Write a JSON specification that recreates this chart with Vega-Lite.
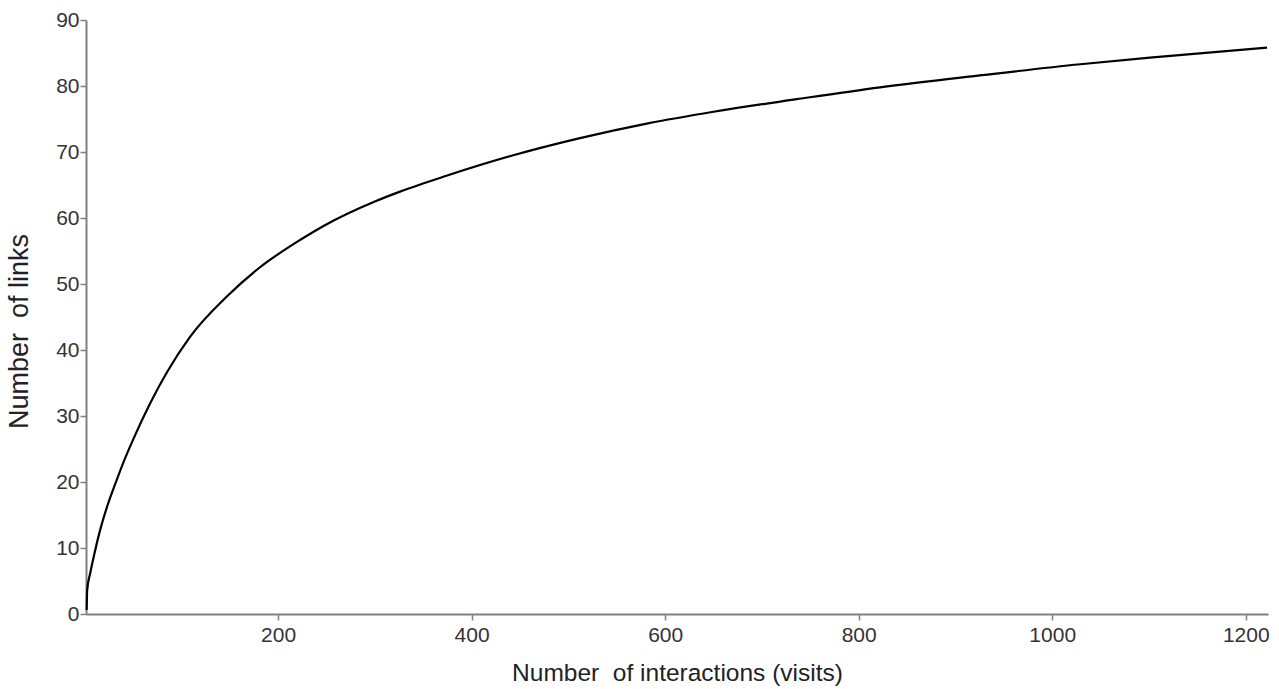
{
  "$schema": "https://vega.github.io/schema/vega-lite/v6.json",
  "width": 1182,
  "height": 594,
  "autosize": {"type": "none"},
  "padding": {"left": 86, "top": 20, "right": 11, "bottom": 75},
  "background": "white",
  "config": {
    "view": {"stroke": null},
    "font": "Liberation Sans",
    "axis": {
      "grid": false,
      "domainColor": "#808080",
      "domainWidth": 2,
      "tickColor": "#808080",
      "tickWidth": 1.5,
      "tickSize": 6,
      "labelColor": "#333333",
      "labelFont": "Liberation Sans",
      "labelFontSize": 21,
      "titleColor": "#222222",
      "titleFont": "Liberation Sans",
      "titleFontSize": 24,
      "titleFontWeight": "normal"
    }
  },
  "data": {
    "values": [
      {"visits": 2.2, "links": 0.6},
      {"visits": 2.7, "links": 3.6},
      {"visits": 6, "links": 6.3},
      {"visits": 10, "links": 9.0},
      {"visits": 15, "links": 12.1},
      {"visits": 23.6, "links": 16.4},
      {"visits": 32.2, "links": 19.9},
      {"visits": 40.8, "links": 23.2},
      {"visits": 50.4, "links": 26.5},
      {"visits": 67.7, "links": 31.9},
      {"visits": 85, "links": 36.6},
      {"visits": 109, "links": 42.0},
      {"visits": 147, "links": 48.1},
      {"visits": 181, "links": 52.5},
      {"visits": 223, "links": 56.7},
      {"visits": 247, "links": 58.8},
      {"visits": 300, "links": 62.5},
      {"visits": 326, "links": 64.0},
      {"visits": 374, "links": 66.4},
      {"visits": 443, "links": 69.5},
      {"visits": 512, "links": 72.1},
      {"visits": 581, "links": 74.3},
      {"visits": 650, "links": 76.1},
      {"visits": 736, "links": 78.0},
      {"visits": 822, "links": 79.8},
      {"visits": 925, "links": 81.6},
      {"visits": 1029, "links": 83.3},
      {"visits": 1101, "links": 84.3},
      {"visits": 1222, "links": 85.8}
    ]
  },
  "mark": {"type": "line", "color": "#000000", "strokeWidth": 2.2, "interpolate": "monotone"},
  "encoding": {
    "x": {
      "field": "visits",
      "type": "quantitative",
      "scale": {"domain": [1.5, 1223], "nice": false, "zero": false},
      "axis": {
        "title": "Number\u00a0 of interactions (visits)",
        "values": [200, 400, 600, 800, 1000, 1200],
        "format": "d",
        "labelPadding": 4,
        "titlePadding": 16,
        "titleFontSize": 24.5
      }
    },
    "y": {
      "field": "links",
      "type": "quantitative",
      "scale": {"domain": [0, 90], "nice": false},
      "axis": {
        "title": "Number\u00a0 of links",
        "values": [0, 10, 20, 30, 40, 50, 60, 70, 80, 90],
        "format": "d",
        "labelPadding": 1,
        "titlePadding": 22,
        "titleFontSize": 27,
        "titleY": 311
      }
    }
  }
}
